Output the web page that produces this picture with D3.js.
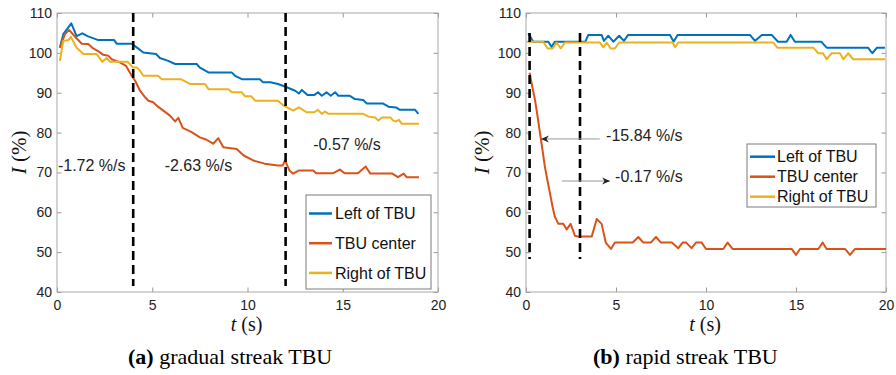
<!DOCTYPE html>
<html><head><meta charset="utf-8">
<script src="https://cdn.jsdelivr.net/npm/d3@7"></script>
<style>body{margin:0;background:#fff}svg{display:block}</style>
</head><body>
<svg id="c" width="896" height="375"></svg>
<script>
// ---------- data ----------
const xTicks = [0, 5, 10, 15, 20];
const yTicks = [40, 50, 60, 70, 80, 90, 100, 110];
const seriesNames = ["Left of TBU", "TBU center", "Right of TBU"];

// (a) gradual streak TBU  [t (s), I (%)]
const aLeft = [[0.15,101.3],[0.33,104.7],[0.75,107.4],[1.03,104.2],[1.33,104.9],[1.6,104.2],[2.17,103.2],[3.0,103.2],[3.13,102.3],[3.92,102.3],[4.2,101.3],[4.53,100.1],[5.2,99.7],[5.4,98.7],[5.84,98.0],[6.2,97.2],[7.33,97.2],[7.5,96.3],[7.95,95.1],[9.17,95.1],[9.35,94.25],[9.7,93.4],[10.65,93.4],[10.82,92.6],[11.2,92.6],[11.6,92.2],[12.0,91.5],[12.5,90.5],[12.7,89.8],[12.85,90.7],[13.15,89.4],[13.5,89.4],[13.7,90.1],[13.9,89.25],[14.15,90.1],[14.37,89.25],[14.6,90.1],[14.77,89.25],[15.35,89.25],[15.64,88.4],[16.07,88.2],[16.26,87.3],[17.1,87.3],[17.4,86.5],[17.8,86.3],[18.0,85.7],[18.8,85.7],[18.97,84.7]];
const aCenter = [[0.15,101.3],[0.42,104.7],[0.63,105.75],[0.94,104.1],[1.3,102.3],[1.64,102.2],[1.9,101.1],[2.2,100.3],[2.43,99.5],[2.7,99.25],[2.87,98.4],[3.3,97.6],[3.62,96.75],[3.92,94.25],[4.1,93.0],[4.36,90.5],[4.6,89.0],[4.8,88.0],[5.05,87.6],[5.3,86.5],[5.58,85.5],[5.93,84.25],[6.2,82.8],[6.37,83.7],[6.6,81.2],[7.07,80.1],[7.5,78.8],[7.85,78.2],[8.2,77.2],[8.47,78.6],[8.73,76.3],[9.43,75.9],[9.8,74.25],[10.3,73.0],[10.9,72.2],[11.6,71.75],[11.85,71.75],[11.97,73.0],[12.2,70.5],[12.4,69.7],[12.7,70.5],[13.45,70.5],[13.6,69.8],[14.5,69.8],[14.85,70.7],[15.1,69.8],[15.8,69.8],[16.2,71.5],[16.45,69.7],[17.6,69.7],[17.9,68.8],[18.2,69.7],[18.35,68.8],[19.0,68.8]];
const aRight = [[0.15,98.0],[0.33,103.0],[0.6,103.2],[0.73,104.0],[1.03,101.3],[1.38,99.7],[2.08,99.7],[2.38,97.75],[2.6,98.7],[2.78,97.75],[3.7,97.75],[4.0,96.3],[4.2,96.3],[4.36,95.5],[4.53,94.25],[5.3,94.25],[5.5,93.4],[6.5,93.4],[6.98,92.2],[7.77,92.2],[7.95,90.9],[9.0,90.9],[9.17,90.1],[9.7,90.1],[9.87,89.1],[10.2,89.1],[10.4,88.0],[11.6,88.0],[11.9,86.75],[12.4,85.5],[12.7,86.3],[13.1,85.1],[13.5,85.1],[13.7,85.7],[13.9,84.7],[14.07,85.3],[14.25,84.7],[16.07,84.7],[16.35,84.0],[16.7,83.8],[16.87,83.0],[17.05,83.8],[17.5,83.8],[17.65,83.0],[17.8,82.8],[17.95,83.2],[18.1,82.2],[19.0,82.2]];

// (b) rapid streak TBU  [t (s), I (%)]
const bLeft = [[0.13,104.9],[0.4,102.8],[1.24,102.8],[1.42,101.5],[1.6,102.8],[3.3,102.8],[3.46,104.5],[4.2,104.5],[4.33,103.0],[4.57,104.3],[4.85,102.8],[5.18,104.3],[5.44,103.0],[5.68,104.5],[8.0,104.5],[8.2,102.8],[8.42,104.5],[12.44,104.5],[12.72,103.0],[13.1,104.5],[13.65,104.5],[14.0,102.8],[14.48,102.8],[14.7,104.5],[14.94,102.8],[16.4,102.8],[16.7,101.3],[19.0,101.3],[19.24,99.9],[19.5,101.3],[19.94,101.3]];
const bCenter = [[0.2,95.0],[0.35,91.5],[0.5,88.2],[0.65,83.8],[0.78,79.8],[0.92,75.5],[1.05,71.4],[1.2,67.8],[1.33,64.8],[1.47,61.5],[1.6,58.9],[1.8,57.1],[2.07,57.1],[2.26,55.7],[2.48,57.1],[2.72,54.1],[2.9,53.9],[3.65,53.9],[3.93,58.3],[4.2,57.1],[4.43,52.4],[4.72,50.8],[4.94,52.4],[5.93,52.4],[6.24,53.8],[6.52,52.4],[6.93,52.4],[7.22,53.8],[7.5,52.4],[8.1,52.4],[8.46,51.0],[8.7,52.4],[8.9,52.4],[9.2,51.0],[9.44,52.4],[9.76,52.4],[10.0,50.8],[10.96,50.8],[11.2,52.4],[11.48,50.8],[14.76,50.8],[15.0,49.3],[15.22,50.8],[16.24,50.8],[16.48,52.4],[16.7,50.8],[17.72,50.8],[18.0,49.3],[18.28,50.8],[20.0,50.8]];
const bRight = [[0.04,102.8],[0.96,102.8],[1.2,101.1],[1.48,101.1],[1.7,102.6],[1.93,101.1],[2.17,102.6],[4.1,102.6],[4.3,101.4],[4.48,102.6],[4.7,101.1],[4.94,101.1],[5.18,102.6],[8.15,102.6],[8.28,101.4],[8.46,102.6],[13.74,102.6],[13.96,101.3],[15.96,101.3],[16.24,99.9],[16.5,99.9],[16.7,98.4],[16.98,99.9],[17.44,99.9],[17.63,98.4],[17.9,99.9],[18.18,98.4],[19.94,98.4]];

// dashed phase boundaries (t) and their vertical extent (I)
const aBounds = [4, 12];
const aBoundRange = [41.5, 110];
const bBounds = [0.2, 3];
const bBoundRange = [48.3, 105];

// rate annotations
const aRates = ["-1.72 %/s", "-2.63 %/s", "-0.57 %/s"];
const bRates = ["-15.84 %/s", "-0.17 %/s"];

// ---------- drawing ----------
const svg = d3.select("#c");
const colors = ["#0072BD", "#D95319", "#EDB120"];
const sans = "'Liberation Sans', Arial, Helvetica, sans-serif";
const serif = "'Liberation Serif', 'Times New Roman', serif";

function panel(o) {
  const x = d3.scaleLinear().domain([0, 20]).range([o.x0, o.x1]);
  const y = d3.scaleLinear().domain([40, 110]).range([o.y1, o.y0]);
  const g = svg.append("g");

  const ax = [
    [d3.axisBottom(x), `translate(0,${o.y1})`, true],
    [d3.axisTop(x), `translate(0,${o.y0})`, false],
  ];
  ax.forEach(([a, tr, lab]) => {
    const s = g.append("g").attr("transform", tr)
      .call(a.tickValues(xTicks).tickSizeInner(-4.5).tickSizeOuter(0).tickPadding(8)
        .tickFormat(lab ? d3.format("d") : ""));
    s.select(".domain").remove();
  });
  const ay = [
    [d3.axisLeft(y), `translate(${o.x0},0)`, true],
    [d3.axisRight(y), `translate(${o.x1},0)`, false],
  ];
  ay.forEach(([a, tr, lab]) => {
    const s = g.append("g").attr("transform", tr)
      .call(a.tickValues(yTicks).tickSizeInner(-4.5).tickSizeOuter(0).tickPadding(5)
        .tickFormat(lab ? d3.format("d") : ""));
    s.select(".domain").remove();
  });
  g.selectAll(".tick line").attr("stroke", "#999");
  g.selectAll(".tick text").attr("font-family", sans).attr("font-size", 14).attr("fill", "#222");

  g.append("rect").attr("x", o.x0).attr("y", o.y0)
    .attr("width", o.x1 - o.x0).attr("height", o.y1 - o.y0)
    .attr("fill", "none").attr("stroke", "#a8a8a8").attr("stroke-width", 1);

  const line = d3.line().x(d => x(d[0])).y(d => y(d[1]));
  o.series.forEach((s, i) => {
    g.append("path").datum(s).attr("d", line)
      .attr("fill", "none").attr("stroke", colors[i]).attr("stroke-width", 2)
      .attr("stroke-linejoin", "round");
  });

  o.bounds.forEach(t => {
    g.append("line").attr("x1", x(t)).attr("x2", x(t))
      .attr("y1", y(o.boundRange[1])).attr("y2", y(o.boundRange[0]))
      .attr("stroke", "#000").attr("stroke-width", 2.6).attr("stroke-dasharray", "9,5");
  });

  o.notes.forEach(n => {
    g.append("text").attr("x", x(n.t)).attr("y", y(n.v)).attr("dy", "0.35em")
      .attr("font-family", sans).attr("font-size", 16).attr("fill", "#222").text(n.text);
  });
  (o.arrows || []).forEach(a => {
    const x1 = x(a.from[0]), y1 = y(a.from[1]), x2 = x(a.to[0]), y2 = y(a.to[1]);
    g.append("line").attr("x1", x1).attr("y1", y1).attr("x2", x2).attr("y2", y2)
      .attr("stroke", "#999").attr("stroke-width", 1);
    const dir = Math.sign(x2 - x1);
    g.append("path")
      .attr("d", `M${x2},${y2} L${x2 - dir * 8},${y2 - 3.5} L${x2 - dir * 5.5},${y2} L${x2 - dir * 8},${y2 + 3.5} Z`)
      .attr("fill", "#222");
  });

  const L = o.legend;
  g.append("rect").attr("x", L.x).attr("y", L.y).attr("width", L.w).attr("height", L.h)
    .attr("fill", "#fff").attr("stroke", "#7a7a7a").attr("stroke-width", 1);
  seriesNames.forEach((nm, i) => {
    const cy = L.y + L.first + i * L.step;
    g.append("line").attr("x1", L.x + L.l0).attr("x2", L.x + L.l1)
      .attr("y1", cy).attr("y2", cy).attr("stroke", colors[i]).attr("stroke-width", 2.5);
    g.append("text").attr("x", L.x + L.tx).attr("y", cy).attr("dy", "0.35em")
      .attr("font-family", sans).attr("font-size", 16).attr("fill", "#111").text(nm);
  });

  const yl = g.append("text")
    .attr("transform", `translate(${o.ylx},${(o.y0 + o.y1) / 2}) rotate(-90)`)
    .attr("text-anchor", "middle").attr("font-family", serif).attr("font-size", 21).attr("fill", "#111");
  yl.append("tspan").attr("font-style", "italic").text("I");
  yl.append("tspan").text(" (%)");
  const xl = g.append("text").attr("x", (o.x0 + o.x1) / 2 - 1).attr("y", 331)
    .attr("text-anchor", "middle").attr("font-family", serif).attr("font-size", 20).attr("fill", "#111");
  xl.append("tspan").attr("font-style", "italic").text("t");
  xl.append("tspan").text(" (s)");

  const cap = g.append("text").attr("x", o.capX).attr("y", 364)
    .attr("font-family", serif).attr("font-size", 22).attr("fill", "#000");
  cap.append("tspan").attr("font-weight", "bold").text(o.capTag);
  cap.append("tspan").text(" " + o.capText);
}

panel({
  x0: 57, x1: 438, y0: 13, y1: 292,
  series: [aLeft, aCenter, aRight],
  bounds: aBounds, boundRange: aBoundRange,
  notes: [
    { t: 0.05, v: 71.8, text: aRates[0] },
    { t: 5.65, v: 71.8, text: aRates[1] },
    { t: 13.45, v: 77.0, text: aRates[2] },
  ],
  legend: { x: 306, y: 195, w: 125, h: 94, first: 18.5, step: 29.7, l0: 3, l1: 26, tx: 29 },
  ylx: 26, capX: 128, capTag: "(a)", capText: "gradual streak TBU",
});

panel({
  x0: 526, x1: 886, y0: 13, y1: 292,
  series: [bLeft, bCenter, bRight],
  bounds: bBounds, boundRange: bBoundRange,
  notes: [
    { t: 4.45, v: 79.2, text: bRates[0] },
    { t: 4.95, v: 68.9, text: bRates[1] },
  ],
  arrows: [
    { from: [4.1, 78.4], to: [0.83, 78.4] },
    { from: [2.0, 67.85], to: [4.67, 67.85] },
  ],
  legend: { x: 747, y: 144, w: 129, h: 63, first: 12.7, step: 20, l0: 3, l1: 28, tx: 30 },
  ylx: 489, capX: 593, capTag: "(b)", capText: "rapid streak TBU",
});
</script>
</body></html>
